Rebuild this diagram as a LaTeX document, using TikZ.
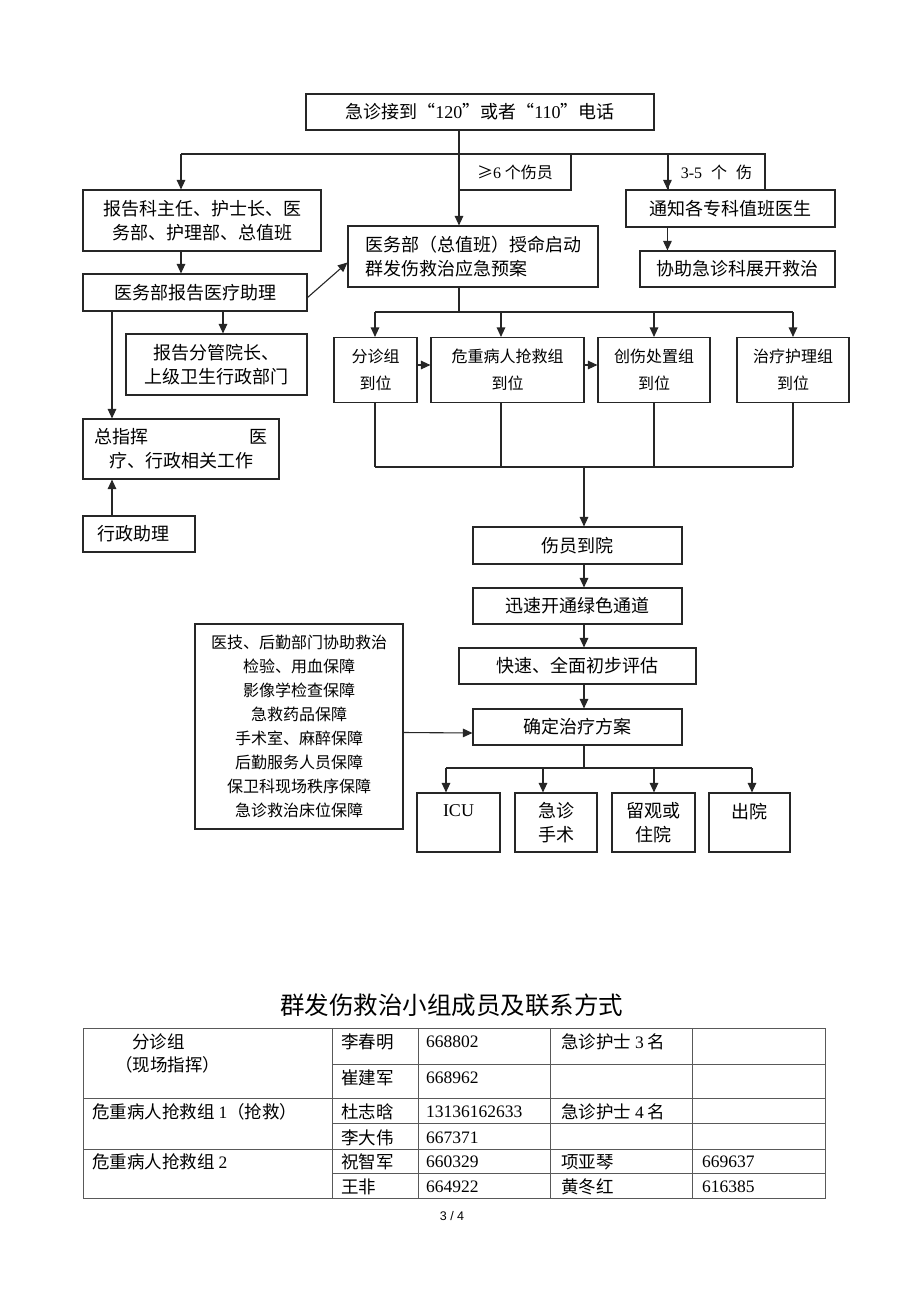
\documentclass[tikz,border=0pt]{standalone}
\usepackage{fontspec}
\setmainfont{Noto Sans CJK SC}
\newfontfamily\tnr{Liberation Serif}
\newfontfamily\pagefont{Liberation Sans}
\newfontfamily\fullq[CharacterWidth=Full]{Noto Sans CJK SC}
\usetikzlibrary{positioning}
\usetikzlibrary{calc}
\usetikzlibrary{arrows.meta}
\newcommand{\rnum}[1]{{\tnr #1}}
\newcommand{\openq}{{\fullq “}}
\newcommand{\closeq}{{\fullq ”}}

\begin{document}
\begin{tikzpicture}[x=1pt, y=-1pt,
		box/.style={draw=black!85, line width=1.1pt, inner sep=0pt, align=center, font=\fontsize{18}{24}\selectfont},
		small/.style={box, font=\fontsize{16}{26.5}\selectfont},
		arr/.style={draw=black!85, line width=1.1pt, -{Triangle[length=9.5pt,width=8.5pt]}},
		link/.style={draw=black!85, line width=1.1pt},
		grid/.style={draw=black!65, line width=0.9pt},
		cell/.style={anchor=west, inner sep=0pt, font=\fontsize{17.5}{22}\selectfont}]
				\fill[white] (0,0) rectangle (920,1302);
				\useasboundingbox (0,0) rectangle (920,1302);
				% call and first split
				\node[box, minimum width=348pt, minimum height=36pt] (call) at (480,112) {急诊接到\openq\rnum{120}\closeq 或者\openq\rnum{110}\closeq 电话};
				\node[small, minimum width=112pt, minimum height=36pt] (many) at (515,172) {≥\rnum{6} 个伤员};
				\node[small, minimum width=97pt, minimum height=36pt] (few) at (716.5,172) {\rnum{3-5}\hspace{9pt}个\hspace{9pt}伤};
				\node[box, minimum width=238pt, minimum height=61pt] (report) at (202,220.5) {报告科主任、护士长、医\\务部、护理部、总值班};
				\node[box, minimum width=224pt, minimum height=37pt] (assist) at (195,292.5) {医务部报告医疗助理};
				\node[box, minimum width=250pt, minimum height=61pt, align=left] (plan) at (473,256.5) {医务部（总值班）授命启动\\群发伤救治应急预案};
				\node[box, minimum width=209pt, minimum height=37pt] (notify) at (730.5,208.5) {通知各专科值班医生};
				\node[box, minimum width=195pt, minimum height=36pt] (help) at (737.5,269) {协助急诊科展开救治};
				\node[box, minimum width=181pt, minimum height=61pt] (leader) at (216.5,364.5) {报告分管院长、\\上级卫生行政部门};
				\node[box, minimum width=196pt, minimum height=60pt] (command) at (181,449) {\makebox[173pt]{总指挥\hfill 医}\\疗、行政相关工作};
				\node[box, minimum width=112pt, minimum height=36pt] (admin) at (139,534) {行政助理\hspace{12pt}};
				\coordinate (tx) at (459,154);
				\coordinate (lx) at (181,0);
				\coordinate (cx) at (112,0);
				\coordinate (dx) at (223,0);
				\draw[arr] (call.south -| tx) -- (plan.north -| tx);
				\draw[link] (tx -| lx) -- (tx -| few.east);
				\draw[arr] (tx -| lx) -- (report.north -| lx);
				\draw[arr] (few.north west) -- (notify.north -| few.west);
				\draw[arr] (notify.south -| few.west) -- (help.north -| few.west);
				\draw[arr] (report.south -| lx) -- (assist.north -| lx);
				\draw[arr] ([yshift=-5pt]assist.east) -- ([yshift=-6pt]plan.west);
				\draw[arr] (assist.south -| cx) -- (command.north -| cx);
				\draw[arr] (assist.south -| dx) -- (leader.north -| dx);
				\draw[arr] (admin.north -| cx) -- (command.south -| cx);
				% groups
				\node[small, minimum width=83pt, minimum height=65pt] (g1) at (375.5,370) {分诊组\\到位};
				\node[small, minimum width=153pt, minimum height=65pt] (g2) at (507.5,370) {危重病人抢救组\\到位};
				\node[small, minimum width=112pt, minimum height=65pt] (g3) at (654,370) {创伤处置组\\到位};
				\node[small, minimum width=112pt, minimum height=65pt] (g4) at (793,370) {治疗护理组\\到位};
				\coordinate (gfork) at (459,312);
				\coordinate (gjoin) at (584,467);
				\draw[link] (plan.south -| tx) -- (gfork);
				\foreach \i/\gx in {1/375,2/501,3/654,4/793} {
					\coordinate (gx\i) at (\gx,0);
					\draw[arr] (gfork -| gx\i) -- (g\i.north -| gx\i);
					\draw[link] (g\i.south -| gx\i) -- (gjoin -| gx\i);
				}
				\draw[link] (gfork -| gx1) -- (gfork -| gx4);
				\draw[link] (gjoin -| gx1) -- (gjoin -| gx4);
				\draw[arr] ([yshift=5pt]g1.east) -- ([yshift=5pt]g2.west);
				\draw[arr] ([yshift=5pt]g2.east) -- ([yshift=5pt]g3.west);
				% treatment chain
				\node[box, minimum width=209pt, minimum height=37pt] (arrive) at (577.5,545.5) {伤员到院};
				\node[box, minimum width=209pt, minimum height=36pt] (green) at (577.5,606) {迅速开通绿色通道};
				\node[box, minimum width=237pt, minimum height=36pt] (assess) at (577.5,666) {快速、全面初步评估};
				\node[box, minimum width=209pt, minimum height=36pt] (decide) at (577.5,727) {确定治疗方案};
				\node[box, minimum width=208pt, minimum height=205pt, font=\fontsize{16}{24}\selectfont] (support) at (299,726.5) {医技、后勤部门协助救治\\检验、用血保障\\影像学检查保障\\急救药品保障\\手术室、麻醉保障\\后勤服务人员保障\\保卫科现场秩序保障\\急诊救治床位保障};
				\draw[arr] (gjoin) -- (arrive.north -| gjoin);
				\draw[arr] (arrive.south -| gjoin) -- (green.north -| gjoin);
				\draw[arr] (green.south -| gjoin) -- (assess.north -| gjoin);
				\draw[arr] (assess.south -| gjoin) -- (decide.north -| gjoin);
				\draw[arr] ([yshift=-6pt]support.east) -- ([yshift=-6pt]decide.west);
				% outcomes
				\node[box, minimum width=83pt, minimum height=59pt] (icu) at (458.5,822.5) {\rnum{ICU}\\\mbox{}};
				\node[box, minimum width=82pt, minimum height=59pt] (surg) at (556,822.5) {急诊\\手术};
				\node[box, minimum width=83pt, minimum height=59pt] (stay) at (653.5,822.5) {留观或\\住院};
				\node[box, minimum width=81pt, minimum height=59pt] (leave) at (749.5,822.5) {出院\\\mbox{}};
				\coordinate (ofork) at (584,768);
				\draw[link] (decide.south -| ofork) -- (ofork);
				\foreach \n/\ox in {icu/446,surg/543,stay/654,leave/752} {
					\coordinate (ox-\n) at (\ox,0);
					\draw[arr] (ofork -| ox-\n) -- (\n.north -| ox-\n);
				}
				\draw[link] (ofork -| ox-icu) -- (ofork -| ox-leave);
				% contact table
				\node[inner sep=0pt, font=\fontsize{24.5}{30}\selectfont] (title) at (451.5,1005) {群发伤救治小组成员及联系方式};
				\draw[grid] (83,1028) rectangle (825,1198);
				\foreach \ry in {1098,1149} \draw[grid] (83,\ry) -- (825,\ry);
				\foreach \ry in {1064,1123,1173} \draw[grid] (332,\ry) -- (825,\ry);
				\foreach \colx in {332,418,550,692} \draw[grid] (\colx,1028) -- (\colx,1198);
				\node[cell] (grp-a) at (132,1042) {分诊组};
				\node[cell] (grp-b) at (115,1065) {（现场指挥）};
				\node[cell] (grp-c) at (92,1112) {危重病人抢救组 \rnum{1}（抢救）};
				\node[cell] (grp-d) at (92,1162) {危重病人抢救组 \rnum{2}};
				\foreach \ry/\who/\tel in {1042/李春明/668802, 1078/崔建军/668962, 1112/杜志晗/13136162633, 1138/李大伟/667371, 1162/祝智军/660329, 1187/王非/664922} {
					\node[cell] (who-\ry) at (341,\ry) {\who};
					\node[cell] (tel-\ry) at (426,\ry) {\rnum{\tel}};
				}
				\node[cell] (nurse-a) at (561,1042) {急诊护士 \rnum{3} 名};
				\node[cell] (nurse-b) at (561,1112) {急诊护士 \rnum{4} 名};
				\node[cell] (who-x) at (561,1162) {项亚琴};
				\node[cell] (who-y) at (561,1187) {黄冬红};
				\node[cell] (tel-x) at (702,1162) {\rnum{669637}};
				\node[cell] (tel-y) at (702,1187) {\rnum{616385}};
				\node[inner sep=0pt, font=\pagefont\fontsize{12.5}{15}\selectfont] (page) at (452,1216) {3 / 4};
\end{tikzpicture}
\end{document}
